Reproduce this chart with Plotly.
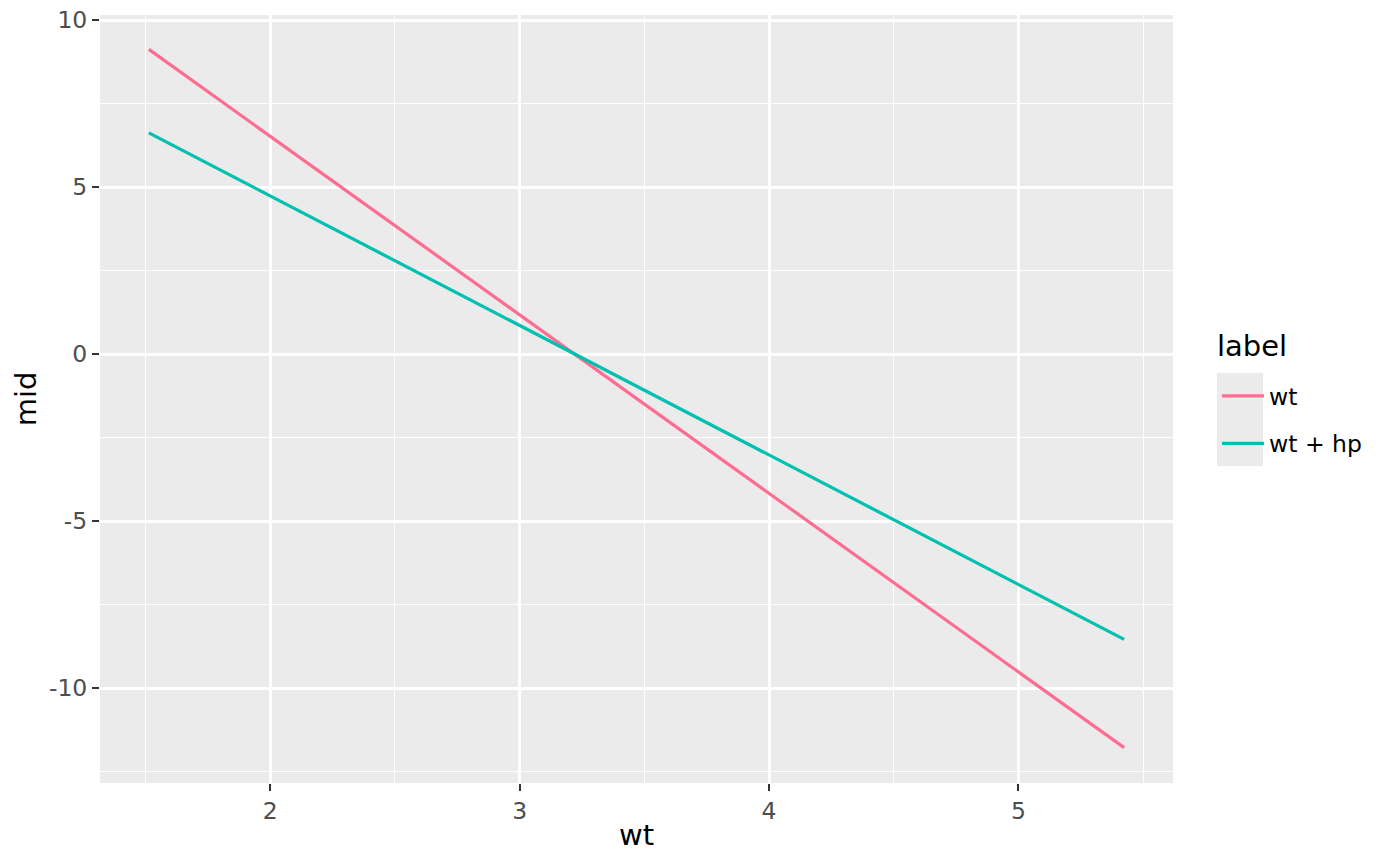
import plotly.graph_objects as go

# Data
wt_x = [1.513, 5.424]
fit_wt = [9.12, -11.78]
fit_wt_hp = [6.62, -8.54]
labels = ["wt", "wt + hp"]
colors = ["#FF6C91", "#00C0AF"]

x_ticks = [2, 3, 4, 5]
y_ticks = [-10, -5, 0, 5, 10]

FONT = "DejaVu Sans"

# page is offset by the 8px body margin; work in page pixels below
OFF = 8
W, H = 1400 - 2 * OFF, 866 - 2 * OFF
PL, PR, PT, PB = 100, 1173, 15, 783  # panel edges in page pixels
L, R, T, B = PL - OFF, W - (PR - OFF), PT - OFF, H - (PB - OFF)
PW, PH = PR - PL, PB - PT

def px_x(p):
    return (p - PL) / PW

def px_y(p):
    return (PB - p) / PH

fig = go.Figure()
for name, ys, col in zip(labels, [fit_wt, fit_wt_hp], colors):
    fig.add_trace(go.Scatter(x=wt_x, y=ys, mode="lines", name=name,
                             line=dict(color=col, width=3.2), legendgroup=name))

fig.add_shape(type="rect", xref="paper", yref="paper",
              x0=px_x(1217), x1=px_x(1263), y0=px_y(466), y1=px_y(373),
              fillcolor="#EBEBEB", line=dict(width=0), layer="below")

fig.add_annotation(text="label", xref="paper", yref="paper",
                   x=px_x(1215), y=px_y(346), xanchor="left", yanchor="middle",
                   showarrow=False, font=dict(family=FONT, size=29, color="black"))

axis_common = dict(
    showgrid=True, gridcolor="white", gridwidth=2.6,
    zeroline=False, showline=False,
    ticks="outside", ticklen=7, tickwidth=2.4, tickcolor="#333333",
    tickfont=dict(family=FONT, size=23.5, color="#4D4D4D"),
    title_font=dict(family=FONT, size=29, color="black"),
    ticklabeloverflow="allow",
)

fig.update_layout(
    width=W, height=H,
    margin=dict(l=L, r=R, t=T, b=B, autoexpand=False),
    paper_bgcolor="white", plot_bgcolor="#EBEBEB",
    font=dict(family=FONT, color="black"),
    xaxis=dict(range=[1.317, 5.62], tickvals=x_ticks, ticktext=[str(v) for v in x_ticks],
               title=dict(text="wt", standoff=0),
               minor=dict(tick0=0, dtick=0.5, showgrid=True, gridcolor="white", gridwidth=1.3, ticks=""),
               **axis_common),
    yaxis=dict(range=[-12.84, 10.15], tickvals=y_ticks, ticktext=[str(v) for v in y_ticks],
               title=dict(text="mid", standoff=3),
               minor=dict(tick0=0, dtick=2.5, showgrid=True, gridcolor="white", gridwidth=1.3, ticks=""),
               **axis_common),
    showlegend=True,
    legend=dict(
        x=px_x(1217), y=px_y(374), xanchor="left", yanchor="top",
        bgcolor="rgba(0,0,0,0)",
        font=dict(family=FONT, size=23.5, color="black"),
        tracegroupgap=14, itemwidth=42,
    ),
)

fig.write_html("out.html")
